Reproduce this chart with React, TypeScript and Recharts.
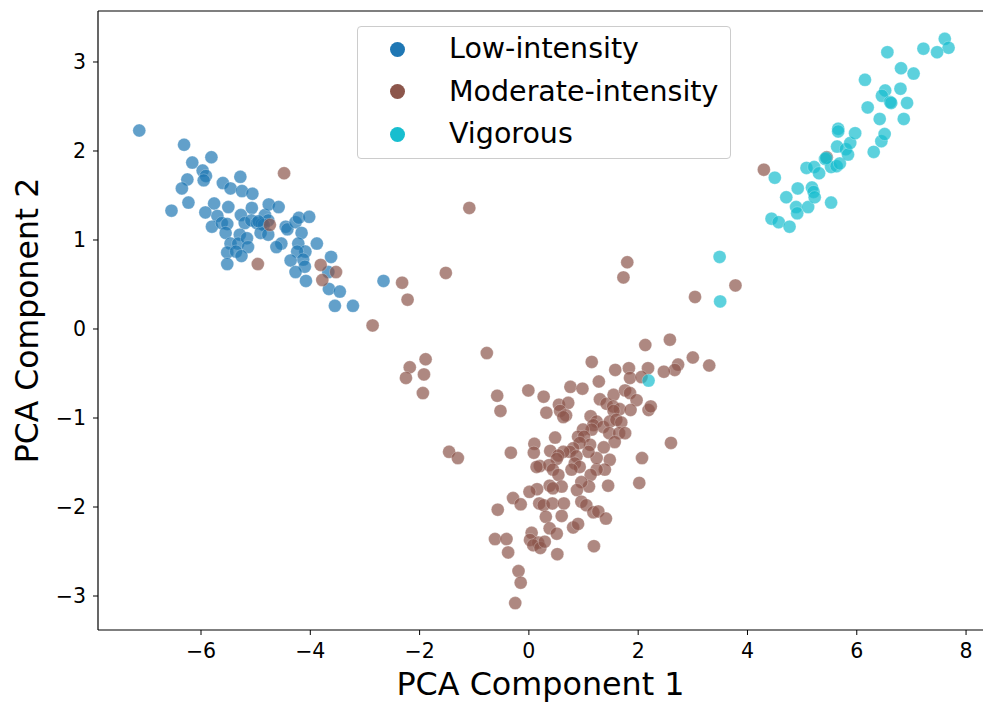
import React from 'react';
import { ScatterChart, Scatter, XAxis, YAxis, ReferenceLine } from 'recharts';

// PCA coordinates, one array per activity class
const lowIntensity: [number, number][] = [
  [-7.13, 2.23], [-6.31, 2.07], [-6.16, 1.87], [-5.81, 1.93], [-5.97, 1.78], [-5.91, 1.72],
  [-5.95, 1.67], [-6.25, 1.68], [-6.35, 1.58], [-6.23, 1.42], [-6.54, 1.33], [-5.6, 1.64],
  [-5.46, 1.58], [-5.28, 1.71], [-5.25, 1.55], [-5.06, 1.52], [-5.76, 1.41], [-5.92, 1.31],
  [-5.5, 1.37], [-5.7, 1.27], [-5.8, 1.15], [-5.62, 1.19], [-5.52, 1.18], [-5.55, 1.08],
  [-5.27, 1.28], [-5.07, 1.36], [-5.2, 1.19], [-5.08, 1.22], [-4.98, 1.19], [-4.89, 1.18],
  [-4.83, 1.28], [-4.76, 1.4], [-4.58, 1.37], [-4.77, 1.22], [-4.85, 1.17], [-4.91, 1.08],
  [-4.77, 1.06], [-4.95, 1.21], [-5.29, 1.06], [-5.46, 0.96], [-5.32, 0.96], [-5.16, 1.02],
  [-5.14, 0.92], [-5.52, 0.86], [-5.36, 0.87], [-5.26, 0.82], [-5.52, 0.73], [-4.45, 1.15],
  [-4.42, 1.12], [-4.27, 1.2], [-4.21, 1.25], [-4.02, 1.26], [-4.16, 1.08], [-4.53, 0.96],
  [-4.62, 0.92], [-4.22, 0.96], [-4.09, 0.87], [-4.24, 0.87], [-3.88, 0.96], [-4.13, 0.78],
  [-4.36, 0.77], [-4.1, 0.7], [-4.27, 0.64], [-4.08, 0.54], [-3.62, 0.81], [-3.67, 0.64],
  [-3.66, 0.45], [-3.46, 0.42], [-3.55, 0.26], [-3.22, 0.26], [-2.66, 0.54],
];

const moderateIntensity: [number, number][] = [
  [-4.48, 1.75], [-4.74, 1.17], [-4.96, 0.73], [-3.81, 0.72], [-3.53, 0.64], [-3.78, 0.55],
  [-2.32, 0.52], [-2.22, 0.33], [-2.86, 0.04], [-1.52, 0.63], [-1.09, 1.36], [-0.77, -0.27],
  [-1.89, -0.34], [-2.18, -0.43], [-1.92, -0.51], [-2.25, -0.55], [-1.94, -0.72],
  [-0.58, -0.75], [-0.52, -0.92], [-0.01, -0.69], [0.27, -0.76], [0.32, -0.94], [-1.46, -1.38],
  [-1.3, -1.45], [-0.33, -1.39], [0.1, -1.29], [0.09, -1.39], [0.48, -1.22], [0.39, -1.37],
  [0.2, -1.54], [0.76, -0.65], [0.98, -0.67], [1.28, -0.59], [0.55, -0.85], [0.72, -0.83],
  [0.57, -0.92], [0.68, -0.97], [0.63, -0.99], [1.3, -0.79], [1.42, -0.84], [1.55, -0.74],
  [1.76, -0.69], [1.85, -0.72], [1.97, -0.8], [1.54, -0.87], [1.66, -0.9], [1.55, -0.92],
  [1.86, -0.91], [2.19, -0.91], [2.23, -0.87], [1.13, -0.98], [1.24, -1.04], [1.18, -1.08],
  [1.36, -1.1], [1.48, -1.04], [1.6, -1.02], [1.69, -1.05], [1.47, -1.17], [1.65, -1.17],
  [1.76, -1.17], [1.57, -1.27], [1.37, -1.33], [1.48, -1.47], [1.39, -1.58], [1.45, -1.76],
  [1.24, -1.58], [1.24, -1.45], [1.13, -1.64], [1.1, -1.77], [0.96, -1.72], [0.88, -1.81],
  [1.15, -1.13], [0.99, -1.13], [0.9, -1.21], [1.01, -1.21], [1.12, -1.3], [1.09, -1.38],
  [0.93, -1.28], [0.81, -1.34], [0.75, -1.38], [0.87, -1.43], [0.84, -1.51], [0.93, -1.55],
  [0.78, -1.58], [0.63, -1.38], [0.54, -1.42], [0.51, -1.46], [0.37, -1.53], [0.44, -1.58],
  [0.54, -1.64], [0.6, -1.77], [0.38, -1.76], [0.44, -1.79], [0.15, -1.8], [0.01, -1.83],
  [-0.29, -1.9], [-0.15, -1.97], [-0.57, -2.03], [0.19, -1.96], [0.27, -1.98], [0.43, -1.96],
  [0.64, -1.96], [0.6, -2.1], [0.31, -2.11], [0.38, -2.24], [0.51, -2.3], [0.81, -2.23],
  [0.9, -2.19], [0.96, -1.94], [1.05, -1.98], [1.18, -2.06], [1.27, -2.05], [1.41, -2.13],
  [1.19, -2.44], [0.52, -2.53], [0.05, -2.29], [0.02, -2.37], [0.17, -2.4], [0.08, -2.43],
  [0.21, -2.46], [0.29, -2.39], [-0.62, -2.36], [-0.41, -2.36], [-0.38, -2.51], [-0.19, -2.72],
  [-0.15, -2.85], [-0.25, -3.08], [2.07, -1.45], [2.02, -1.73], [2.6, -1.28], [0.14, -1.55],
  [1.8, 0.75], [1.73, 0.58], [3.04, 0.36], [3.78, 0.49], [2.13, -0.18], [2.58, -0.12],
  [3.0, -0.32], [3.3, -0.41], [2.73, -0.4], [2.67, -0.46], [2.47, -0.48], [2.18, -0.44],
  [1.83, -0.44], [1.58, -0.46], [1.15, -0.37], [1.85, -0.55], [2.06, -0.54],
  [4.3, 1.79], [5.45, 1.93],
];

const vigorous: [number, number][] = [
  [3.49, 0.81], [3.5, 0.31], [2.19, -0.58], [4.5, 1.7], [4.71, 1.48], [4.92, 1.58],
  [4.89, 1.37], [4.91, 1.3], [5.11, 1.37], [5.18, 1.59], [5.21, 1.54], [5.23, 1.48],
  [5.53, 1.42], [4.44, 1.24], [4.57, 1.2], [4.77, 1.15], [5.08, 1.81], [5.22, 1.82],
  [5.31, 1.75], [5.42, 1.91], [5.53, 1.82], [5.63, 1.83], [5.69, 1.86], [5.64, 2.05],
  [5.8, 2.02], [5.84, 1.96], [5.88, 2.09], [6.31, 1.99], [6.45, 2.11], [7.61, 3.26],
  [7.68, 3.16], [7.47, 3.11], [7.22, 3.15], [6.56, 3.11], [6.81, 2.93], [7.04, 2.87],
  [6.15, 2.8], [6.8, 2.7], [6.52, 2.68], [6.46, 2.62], [6.61, 2.55], [6.63, 2.54],
  [6.92, 2.54], [6.2, 2.49], [6.42, 2.36], [6.86, 2.36], [6.51, 2.19], [5.66, 2.25],
  [5.66, 2.22], [5.97, 2.2], [5.44, 1.92],
];

const xTicks = [-6, -4, -2, 0, 2, 4, 6, 8];
const yTicks = [-3, -2, -1, 0, 1, 2, 3];

const series = [
  { name: 'Low-intensity', color: '#1f77b4', points: lowIntensity },
  { name: 'Moderate-intensity', color: '#8c564b', points: moderateIntensity },
  { name: 'Vigorous', color: '#17becf', points: vigorous },
];

const FONT = '"DejaVu Sans", sans-serif';
const X_DOMAIN: [number, number] = [-7.885, 8.31];
const Y_DOMAIN: [number, number] = [-3.382, 3.573];

const fmt = (v: number) => (v < 0 ? `\u2212${Math.abs(v)}` : `${v}`);

const dot = (color: string) => (props: any) => (
  <circle
    cx={props.cx}
    cy={props.cy}
    r={6.5}
    fill={color}
    fillOpacity={0.7}
    stroke="#ffffff"
    strokeOpacity={0.5}
    strokeWidth={0.5}
  />
);

export default function App() {
  return (
    <div style={{ position: 'absolute', left: 0, top: 0, width: 983, height: 706, fontFamily: FONT, background: '#fff' }}>
      <ScatterChart width={983} height={706} margin={{ top: 11, right: 0, left: 0, bottom: 0 }}>
        <XAxis
          type="number"
          dataKey="x"
          domain={X_DOMAIN}
          ticks={xTicks}
          allowDataOverflow
          height={76}
          tickSize={5}
          tickMargin={8}
          tickFormatter={fmt}
          tick={{ fill: '#000', fontSize: 20.5, fontFamily: FONT }}
          axisLine={{ stroke: '#000', strokeWidth: 1.2 }}
          tickLine={{ stroke: '#000' }}
          label={{ value: 'PCA Component 1', position: 'insideBottom', offset: 11, fill: '#000', fontSize: 31.8, fontFamily: FONT }}
        />
        <YAxis
          type="number"
          dataKey="y"
          domain={Y_DOMAIN}
          ticks={yTicks}
          allowDataOverflow
          width={98}
          tickSize={5}
          tickMargin={7}
          tickFormatter={fmt}
          tick={{ fill: '#000', fontSize: 20.5, fontFamily: FONT }}
          axisLine={{ stroke: '#000', strokeWidth: 1.2 }}
          tickLine={{ stroke: '#000' }}
          label={{
            value: 'PCA Component 2',
            angle: -90,
            position: 'insideLeft',
            offset: 27,
            fill: '#000',
            fontSize: 31.5,
            fontFamily: FONT,
            style: { textAnchor: 'middle' },
          }}
        />
        {/* top spine */}
        <ReferenceLine y={Y_DOMAIN[1]} stroke="#000" strokeWidth={1.2} ifOverflow="extendDomain" />
        {series.map((s) => (
          <Scatter
            key={s.name}
            name={s.name}
            data={s.points.map(([x, y]) => ({ x, y }))}
            shape={dot(s.color)}
            isAnimationActive={false}
          />
        ))}
      </ScatterChart>
      <div
        style={{
          position: 'absolute',
          left: 357,
          top: 26,
          width: 372,
          height: 131,
          border: '1px solid #cccccc',
          borderRadius: 4,
          background: 'rgba(255,255,255,0.8)',
        }}
      >
        {series.map((s, i) => (
          <div
            key={s.name}
            style={{ position: 'absolute', left: 0, top: 2 + i * 42.5, height: 40, width: '100%' }}
          >
            <span
              style={{
                position: 'absolute',
                left: 32,
                top: 12.5,
                width: 15,
                height: 15,
                borderRadius: 7.5,
                background: s.color,
              }}
            />
            <span
              style={{
                position: 'absolute',
                left: 91,
                top: 0,
                lineHeight: '40px',
                fontSize: 28.5,
                color: '#000',
                whiteSpace: 'nowrap',
              }}
            >
              {s.name}
            </span>
          </div>
        ))}
      </div>
    </div>
  );
}
